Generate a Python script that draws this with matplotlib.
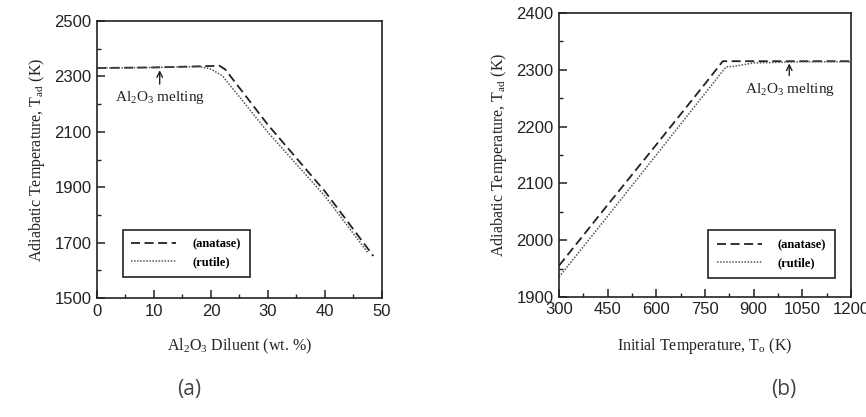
import matplotlib
matplotlib.use("Agg")
import matplotlib.pyplot as plt
from matplotlib.ticker import MultipleLocator

# panel (a): adiabatic temperature vs Al2O3 diluent
diluent_anatase = [0, 10, 18, 21.5, 22.5, 30, 40, 48.5]
tad_anatase_a = [2330, 2332, 2336, 2338, 2325, 2125, 1885, 1652]
diluent_rutile = [0, 10, 18, 20, 22, 30, 40, 47.5]
tad_rutile_a = [2330, 2332, 2335, 2326, 2302, 2098, 1868, 1665]
yticks_a = [1500, 1700, 1900, 2100, 2300, 2500]

# panel (b): adiabatic temperature vs initial temperature
t0_anatase = [300, 450, 600, 750, 805, 900, 1050, 1200]
tad_anatase_b = [1955, 2062, 2168, 2275, 2315, 2315, 2315, 2315]
t0_rutile = [300, 450, 600, 750, 815, 840, 900, 1050, 1200]
tad_rutile_b = [1935, 2042, 2150, 2258, 2305, 2306, 2312, 2314, 2314]

SERIF = ["Liberation Serif", "DejaVu Serif"]
SANS = ["Liberation Sans", "DejaVu Sans"]
INK = "#222222"

plt.rcParams.update({
    "font.family": SANS,
    "mathtext.fontset": "custom",
    "mathtext.rm": "Liberation Serif",
    "mathtext.it": "Liberation Serif:italic",
    "mathtext.bf": "Liberation Serif:bold",
    "xtick.direction": "in",
    "ytick.direction": "in",
    "xtick.color": INK,
    "ytick.color": INK,
    "axes.edgecolor": INK,
    "axes.linewidth": 1.2,
})

fig = plt.figure(figsize=(8.66, 4.17), dpi=100)
ax_a = fig.add_axes([0.112, 0.285, 0.329, 0.665])
ax_b = fig.add_axes([0.6455, 0.288, 0.337, 0.681])

dash = dict(color=INK, linestyle=(0, (5, 2.5)), linewidth=1.3)
dots = dict(color="#555555", linestyle=(0, (1, 1)), linewidth=1.1)
leg_kw = dict(loc="lower left", borderaxespad=0, handlelength=3.6,
              fancybox=False, prop={"family": SERIF, "size": 9, "weight": "bold"},
              edgecolor=INK, framealpha=1, borderpad=0.7, handletextpad=1.3,
              labelspacing=0.5)
label_kw = dict(family=SERIF, fontsize=11.5, color=INK)

# (a)
ax_a.plot(diluent_anatase, tad_anatase_a, label="(anatase)", **dash)
ax_a.plot(diluent_rutile, tad_rutile_a, label="(rutile)", **dots)
ax_a.set_xlim(0, 50)
ax_a.set_ylim(1500, 2500)
ax_a.xaxis.set_major_locator(MultipleLocator(10))
ax_a.xaxis.set_minor_locator(MultipleLocator(5))
ax_a.set_yticks(yticks_a)
ax_a.yaxis.set_minor_locator(MultipleLocator(100))
ax_a.set_xlabel(r"Al$_2$O$_3$ Diluent (wt. %)", labelpad=13, **label_kw)
ax_a.set_ylabel(r"Adiabatic Temperature, T$_{\mathrm{ad}}$ (K)", labelpad=5,
                **label_kw)
ax_a.annotate("", xy=(11, 2332), xytext=(11, 2262),
              arrowprops=dict(arrowstyle="->", color=INK, lw=1.0))
ax_a.text(3.2, 2222, r"Al$_2$O$_3$ melting", family=SERIF, fontsize=11,
          color=INK, va="center")
leg_a = ax_a.legend(bbox_to_anchor=(0.09, 0.075), **leg_kw)
leg_a.get_frame().set_linewidth(1.2)

# (b)
ax_b.plot(t0_anatase, tad_anatase_b, label="(anatase)", **dash)
ax_b.plot(t0_rutile, tad_rutile_b, label="(rutile)", **dots)
ax_b.set_xlim(300, 1200)
ax_b.set_ylim(1900, 2400)
ax_b.xaxis.set_major_locator(MultipleLocator(150))
ax_b.xaxis.set_minor_locator(MultipleLocator(75))
ax_b.yaxis.set_major_locator(MultipleLocator(100))
ax_b.yaxis.set_minor_locator(MultipleLocator(50))
ax_b.set_xlabel(r"Initial Temperature, T$_\mathrm{o}$ (K)", labelpad=13,
                **label_kw)
ax_b.set_ylabel(r"Adiabatic Temperature, T$_{\mathrm{ad}}$ (K)", labelpad=5,
                **label_kw)
ax_b.annotate("", xy=(1010, 2316), xytext=(1010, 2285),
              arrowprops=dict(arrowstyle="->", color=INK, lw=1.0))
ax_b.text(1012, 2265, r"Al$_2$O$_3$ melting", family=SERIF, fontsize=11,
          color=INK, va="center", ha="center")
leg_b = ax_b.legend(bbox_to_anchor=(0.51, 0.067), **leg_kw)
leg_b.get_frame().set_linewidth(1.2)

for ax in (ax_a, ax_b):
    ax.tick_params(which="major", length=6, width=1.1, labelsize=12, pad=4)
    ax.tick_params(which="minor", length=3, width=1.0)

fig.text(0.219, 0.065, "(a)", fontsize=15, color="#444444", ha="center",
         va="center", family=["Open Sans", "DejaVu Sans"])
fig.text(0.905, 0.065, "(b)", fontsize=15, color="#444444", ha="center",
         va="center", family=["Open Sans", "DejaVu Sans"])

fig.savefig("out.png", dpi=100, facecolor="white")
